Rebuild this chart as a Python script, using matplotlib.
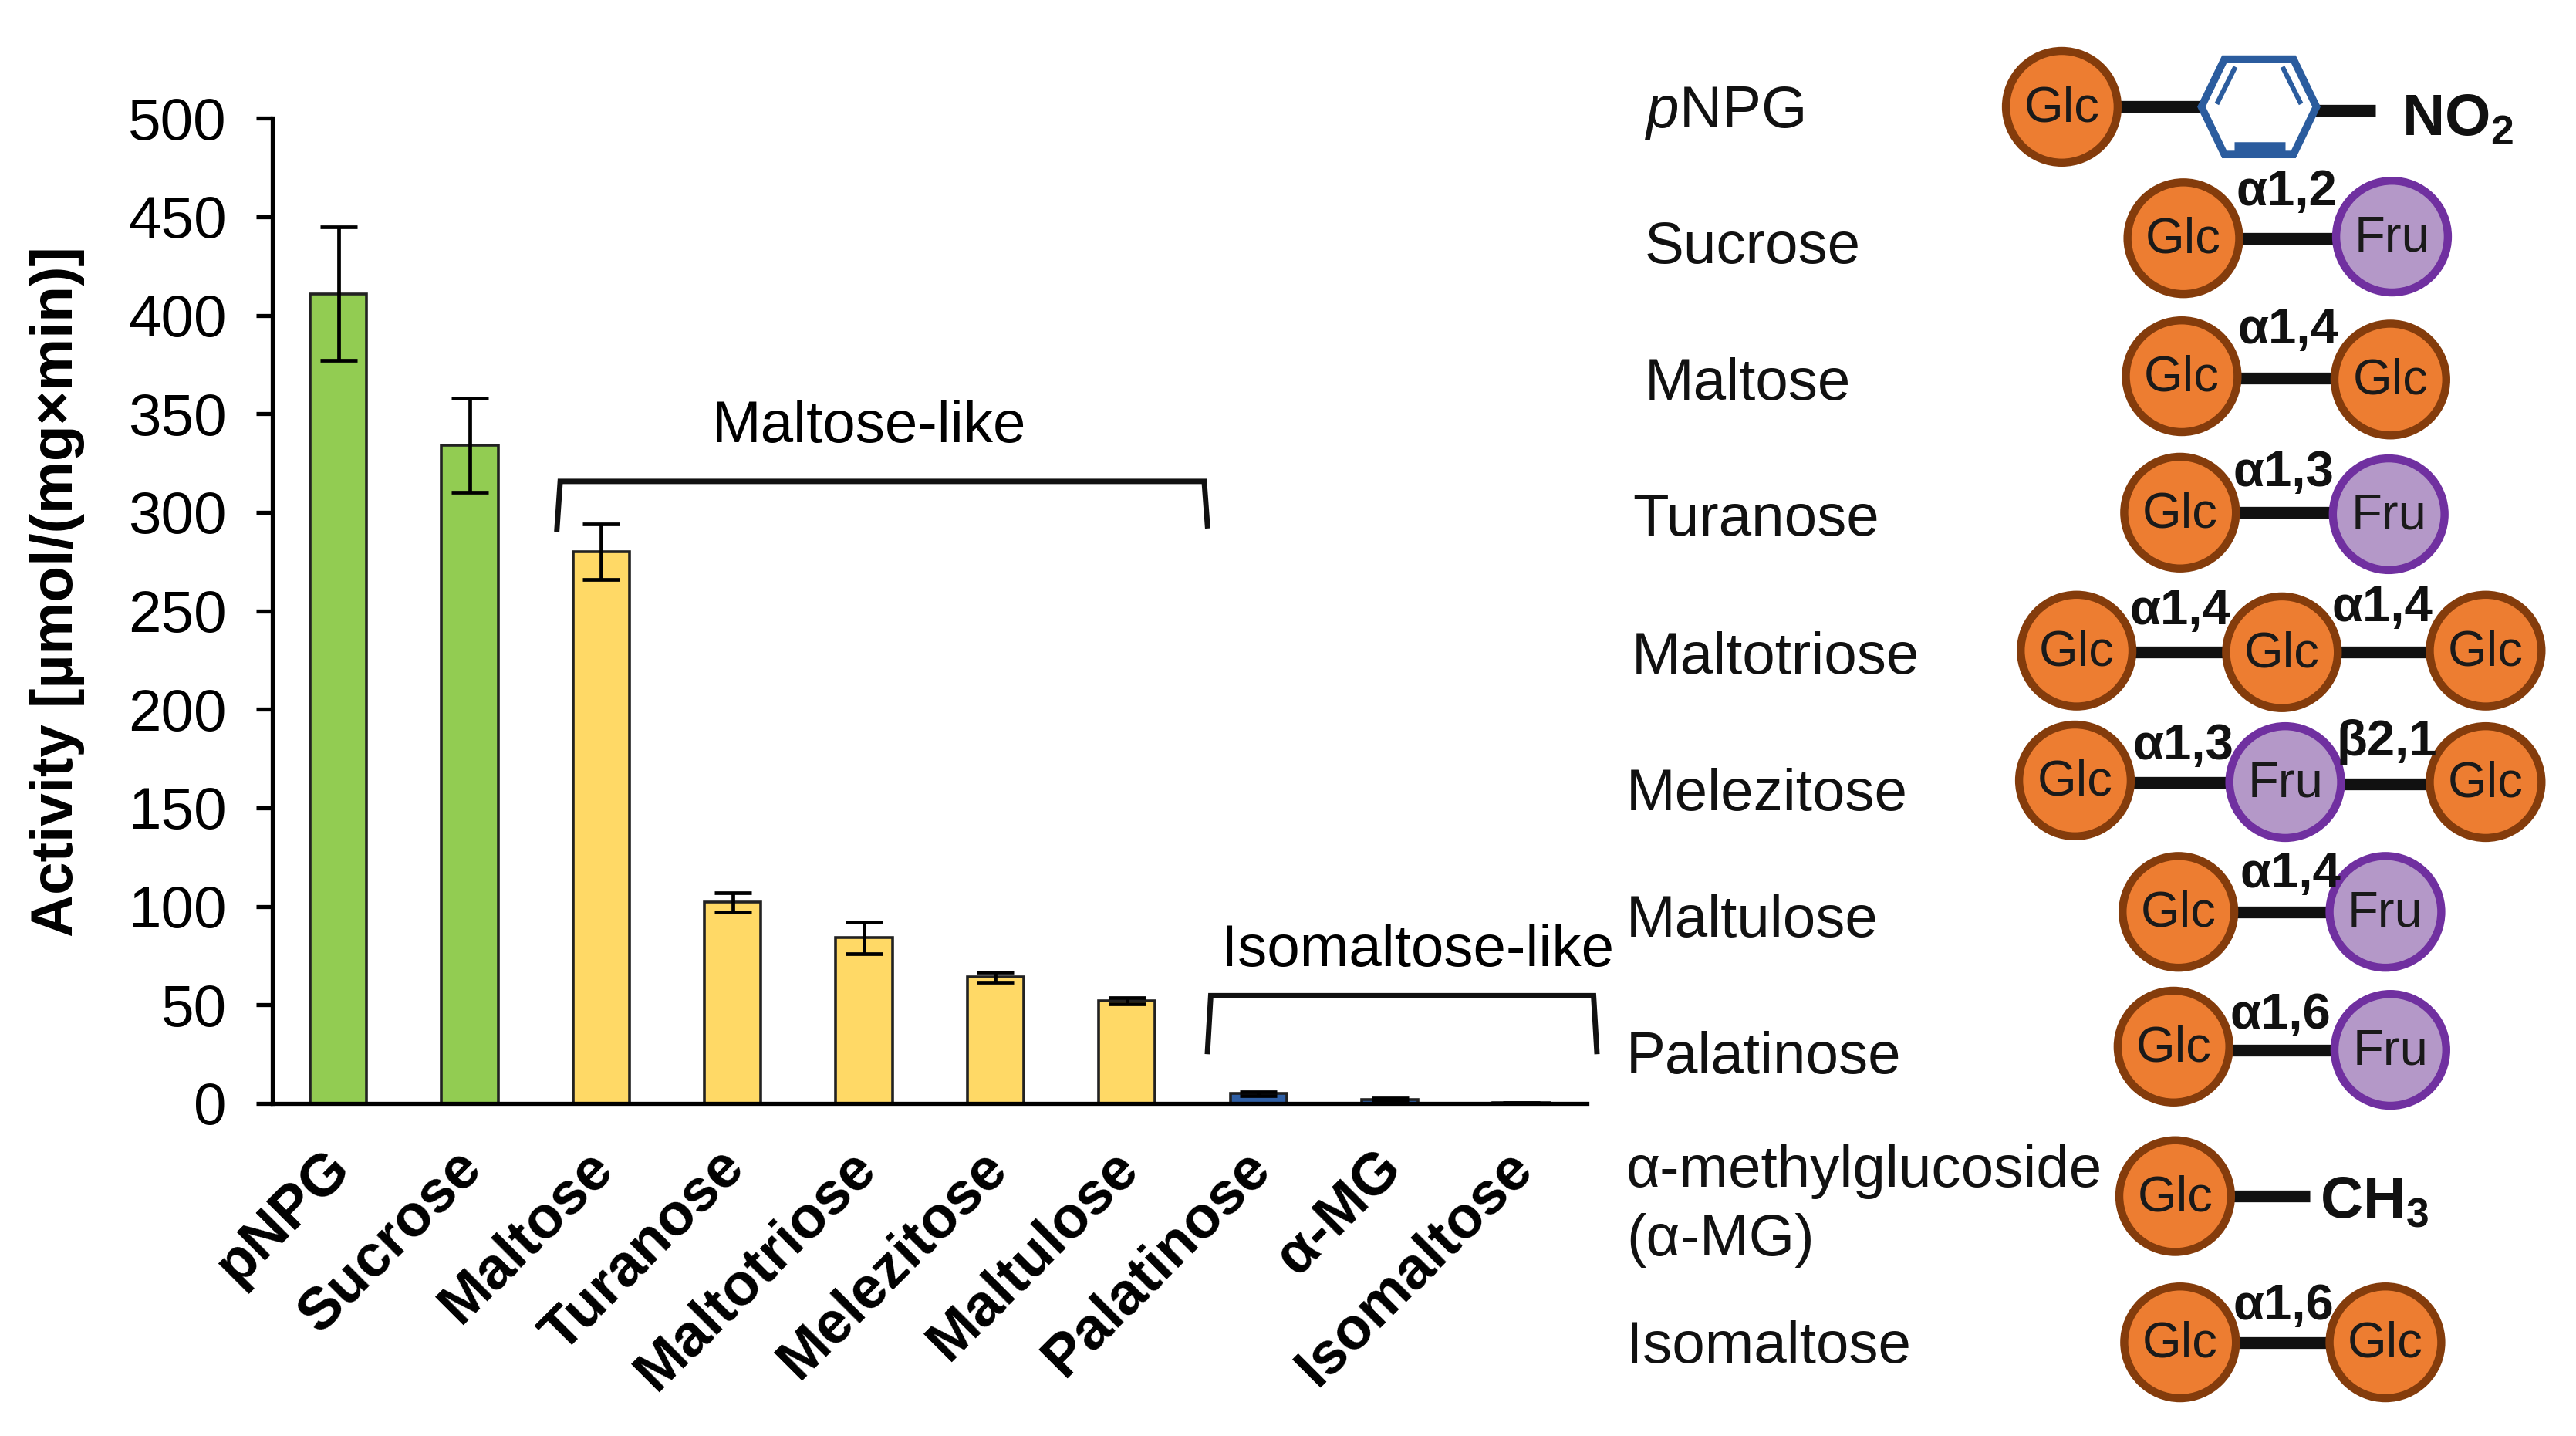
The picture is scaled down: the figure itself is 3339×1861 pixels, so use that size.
import matplotlib
matplotlib.use('Agg')
import matplotlib.pyplot as plt
from matplotlib.patches import Ellipse, Polygon
from matplotlib.transforms import ScaledTranslation

plt.rcParams['font.family'] = ['Liberation Sans', 'DejaVu Sans']
plt.rcParams['mathtext.fontset'] = 'custom'
plt.rcParams['mathtext.rm'] = 'Liberation Sans'
plt.rcParams['mathtext.it'] = 'Liberation Sans:italic'
plt.rcParams['mathtext.bf'] = 'Liberation Sans:bold'

# bar data
sugars = ['pNPG', 'Sucrose', 'Maltose', 'Turanose', 'Maltotriose', 'Melezitose',
          'Maltulose', 'Palatinose', 'α-MG', 'Isomaltose']
activity = [411, 334, 280, 102, 84, 64, 52, 5, 2, 0.2]
errors = [34, 24, 14, 5, 8, 2.5, 1.5, 1, 0.6, 0.1]
bar_colors = ['#92CC52', '#92CC52', '#FFD966', '#FFD966', '#FFD966', '#FFD966',
              '#FFD966', '#2F5FA5', '#2F5FA5', '#2F5FA5']
yticks = [0, 50, 100, 150, 200, 250, 300, 350, 400, 450, 500]

# right hand names, (x, y) in the 1568 wide picture
names = [(r'$\mathit{p}$NPG', 1001, 69), ('Sucrose', 1001, 151), ('Maltose', 1001, 234),
         ('Turanose', 994, 317), ('Maltotriose', 993, 401), ('Melezitose', 990, 484),
         ('Maltulose', 990, 561), ('Palatinose', 990, 644), ('α-methylglucoside', 990, 713),
         ('(α-MG)', 990, 755), ('Isomaltose', 990, 820)]

# sugar rings
rings = [('Glc', 1255, 65), ('Glc', 1329, 145), ('Fru', 1456, 144), ('Glc', 1328, 229),
         ('Glc', 1455, 231), ('Glc', 1327, 312), ('Fru', 1454, 313), ('Glc', 1264, 396),
         ('Glc', 1389, 397), ('Glc', 1513, 396), ('Glc', 1263, 475), ('Fru', 1391, 476),
         ('Glc', 1513, 476), ('Glc', 1326, 555), ('Fru', 1452, 555), ('Glc', 1323, 637),
         ('Fru', 1455, 639), ('Glc', 1324, 728), ('Glc', 1327, 817), ('Glc', 1452, 817)]

# links (x0, x1, y)
links = [(1285, 1345, 65), (1405, 1446, 67), (1360, 1425, 145), (1360, 1425, 230),
         (1360, 1425, 312), (1295, 1358, 397), (1420, 1482, 397), (1295, 1360, 476),
         (1420, 1482, 477), (1358, 1422, 555), (1355, 1425, 639), (1355, 1406, 728),
         (1360, 1420, 817)]

bonds = [('α1,2', 1392, 117), ('α1,4', 1393, 201), ('α1,3', 1390, 288), ('α1,4', 1327, 372),
         ('α1,4', 1450, 370), ('α1,3', 1329, 454), ('β2,1', 1453, 452), ('α1,4', 1394, 532),
         ('α1,6', 1388, 618), ('α1,6', 1390, 795)]

fig = plt.figure(figsize=(33.39, 18.61), dpi=100)

# chart axes, spans 166..966 and 72..671 of the shrunk picture
ax = fig.add_axes([166 / 1568, 1 - 671.5 / 874, 800 / 1568, 599.5 / 874])
xs = list(range(len(sugars)))
ax.bar(xs, activity, width=0.43, color=bar_colors, edgecolor='#222222', linewidth=2.6, zorder=2)
ax.errorbar(xs, activity, yerr=errors, fmt='none', ecolor='black', elinewidth=3.4,
            capsize=17, capthick=3.4, zorder=3)
ax.set_xlim(-0.5, 9.5)
ax.set_ylim(0, 500)
ax.set_yticks(yticks)
ax.tick_params(axis='y', labelsize=55, length=15, width=3.8, pad=28)
ax.tick_params(axis='x', length=0, pad=34)
ax.set_xticks(xs)
ax.set_xticklabels(sugars, rotation=45, ha='right', rotation_mode='anchor',
                   fontsize=55, fontweight='bold')
shift = ScaledTranslation(-21 / 100, 0, fig.dpi_scale_trans)
for lab in ax.get_xticklabels():
    lab.set_transform(lab.get_transform() + shift)
ax.spines['top'].set_visible(False)
ax.spines['right'].set_visible(False)
ax.spines['left'].set_linewidth(3.8)
ax.spines['bottom'].set_linewidth(3.8)

# overlay for y title, brackets and the structures
ov = fig.add_axes([0, 0, 1, 1])
ov.set_xlim(0, 1568)
ov.set_ylim(874, 0)
ov.axis('off')
ov.patch.set_alpha(0)

ov.text(35, 360, 'Activity [µmol/(mg×min)]', fontsize=55, fontweight='bold',
        rotation=90, ha='center', va='center')

ov.plot([339, 341, 733, 735], [322, 293, 293, 320], color='#111111', lw=5, solid_joinstyle='miter')
ov.plot([735, 737, 970, 972], [640, 606, 606, 640], color='#111111', lw=5, solid_joinstyle='miter')
ov.text(529, 260, 'Maltose-like', fontsize=55, ha='center', va='center')
ov.text(863, 579, 'Isomaltose-like', fontsize=55, ha='center', va='center')

for label, x, y in names:
    ov.text(x, y, label, fontsize=55, ha='left', va='center', color='#111111')

for x0, x1, y in links:
    ov.plot([x0, x1], [y, y], color='#111111', lw=11, solid_capstyle='butt', zorder=2)

# benzene ring of pNPG
hexagon = [(1340, 65), (1354, 36), (1396, 36), (1410, 65), (1396, 94), (1354, 94)]
ov.add_patch(Polygon(hexagon, closed=True, facecolor='white', edgecolor='#2B5C9E', lw=7, zorder=3))
ov.plot([1350, 1360], [62, 42], color='#2B5C9E', lw=4.5, zorder=4)
ov.plot([1390, 1400], [42, 62], color='#2B5C9E', lw=4.5, zorder=4)
ov.plot([1360, 1391], [89, 89], color='#2B5C9E', lw=9, solid_capstyle='butt', zorder=4)
ov.text(1462, 73, r'$\mathbf{NO_2}$', fontsize=55, ha='left', va='center', color='#111111')
ov.text(1412, 732, r'$\mathbf{CH_3}$', fontsize=55, ha='left', va='center', color='#111111')

for label, x, y in rings:
    if label == 'Glc':
        face, edge = '#ED7D31', '#843C0C'
    else:
        face, edge = '#B498C8', '#7030A0'
    ov.add_patch(Ellipse((x, y), 68, 68, facecolor=face, edgecolor=edge, lw=7.5, zorder=5))
    ov.text(x, y + 1, label, fontsize=47, ha='center', va='center', color='#1a1a1a', zorder=6)

for label, x, y in bonds:
    ov.text(x, y, label, fontsize=47, fontweight='bold', ha='center', va='center',
            color='#111111', zorder=7)

fig.savefig('out.png', dpi=100, facecolor='white')
